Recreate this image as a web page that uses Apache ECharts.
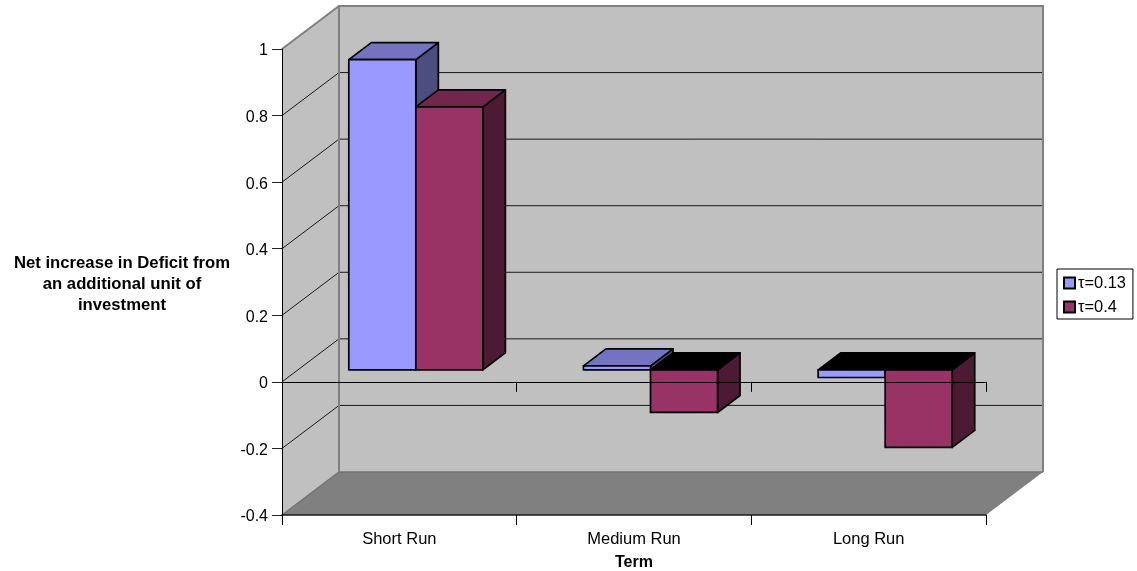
<!DOCTYPE html>
<html>
<head>
<meta charset="utf-8">
<title>Net increase in Deficit</title>
<script src="https://cdn.jsdelivr.net/npm/echarts@6/dist/echarts.min.js"></script>
<style>
html, body { margin: 0; padding: 0; background: #fff; }
#chart { width: 1137px; height: 571px; }
</style>
</head>
<body>
<div id="chart"></div>
<script>
// 数据
var categories = ['Short Run', 'Medium Run', 'Long Run'];
var tauLow = [0.932, 0.012, -0.023];
var tauHigh = [0.79, -0.128, -0.233];
var tickValues = [-0.2, 0, 0.2, 0.4, 0.6, 0.8];

// 假3D的进深
var wallDx = 57, wallDy = 43;
var barFrontDx = 16.5, barFrontDy = 12;
var barDepthDx = 22.5, barDepthDy = 17;
var barShare = 0.2857;
var fontName = '"Liberation Sans", Arial, sans-serif';

var chart = echarts.init(document.getElementById('chart'));

function poly(points, fill, stroke, lineWidth) {
    return {
        type: 'polygon',
        shape: {points: points},
        style: {fill: fill, stroke: stroke || 'none', lineWidth: lineWidth || 0, lineJoin: 'round'}
    };
}

function polyline(points, stroke, lineWidth) {
    return {
        type: 'polyline',
        shape: {points: points},
        style: {fill: 'none', stroke: stroke, lineWidth: lineWidth}
    };
}

// 背景墙和地板
function renderWalls(params, api) {
    var rect = params.coordSys;
    var left = rect.x, right = rect.x + rect.width;
    var top = rect.y, bottom = rect.y + rect.height;
    var children = [
        poly([[left, top], [left + wallDx, top - wallDy], [left + wallDx, bottom - wallDy], [left, bottom]], '#c0c0c0'),
        poly([[left + wallDx, top - wallDy], [right + wallDx, top - wallDy], [right + wallDx, bottom - wallDy], [left + wallDx, bottom - wallDy]], '#c0c0c0'),
        poly([[left, bottom], [right, bottom], [right + wallDx, bottom - wallDy], [left + wallDx, bottom - wallDy]], '#808080')
    ];
    tickValues.forEach(function (v) {
        var y = api.coord([0, v])[1];
        children.push(polyline([[left, y], [left + wallDx, y - wallDy], [right + wallDx, y - wallDy]], '#1a1a1a', 1));
    });
    children.push(polyline([[left, top], [left + wallDx, top - wallDy], [right + wallDx, top - wallDy], [right + wallDx, bottom - wallDy]], '#808080', 2));
    children.push(polyline([[left, bottom], [left + wallDx, bottom - wallDy], [right + wallDx, bottom - wallDy]], '#737373', 1.5));
    children.push(polyline([[left + wallDx, top - wallDy], [left + wallDx, bottom - wallDy]], '#808080', 2));
    return {type: 'group', children: children};
}

// slot: 0 左边的柱, 1 右边的柱
function makeBarRenderer(slot, front, topFace, sideFace) {
    return function (params, api) {
        var idx = api.value(0);
        var value = api.value(1);
        var band = api.size([1, 0])[0];
        var barW = band * barShare;
        var center = api.coord([idx, 0]);
        var x0 = center[0] + barFrontDx - barW + slot * barW;
        var x1 = x0 + barW;
        var yZero = center[1] - barFrontDy;
        var yVal = api.coord([idx, value])[1] - barFrontDy;
        var yTop = Math.min(yZero, yVal);
        var yBottom = Math.max(yZero, yVal);
        // 负值柱子的顶面是黑的
        var topColor = value < 0 ? '#000000' : topFace;
        return {
            type: 'group',
            children: [
                poly([[x1, yTop], [x1 + barDepthDx, yTop - barDepthDy], [x1 + barDepthDx, yBottom - barDepthDy], [x1, yBottom]], sideFace, '#000', 1.7),
                poly([[x0, yTop], [x0 + barDepthDx, yTop - barDepthDy], [x1 + barDepthDx, yTop - barDepthDy], [x1, yTop]], topColor, '#000', 1.7),
                poly([[x0, yTop], [x1, yTop], [x1, yBottom], [x0, yBottom]], front, '#000', 1.7)
            ]
        };
    };
}

function barData(values) {
    return values.map(function (v, i) {
        return [i, v];
    });
}

var option = {
    animation: false,
    textStyle: {fontFamily: fontName, color: '#000'},
    // v6默认会把grid往里缩，这里关掉
    grid: {left: 282, top: 49, width: 704, height: 466, containLabel: false, outerBoundsMode: 'none'},
    legend: {
        left: 1057,
        top: 269,
        orient: 'vertical',
        icon: 'rect',
        itemWidth: 11,
        itemHeight: 11,
        itemGap: 8,
        padding: [6, 7, 4, 6],
        borderColor: '#000',
        borderWidth: 1,
        backgroundColor: '#fff',
        textStyle: {fontFamily: fontName, fontSize: 16.4, color: '#000', padding: [0, 0, 0, -2]},
        data: ['τ=0.13', 'τ=0.4']
    },
    xAxis: [
        {
            type: 'category',
            data: categories,
            position: 'bottom',
            name: 'Term',
            nameLocation: 'middle',
            nameGap: 40,
            nameTextStyle: {fontFamily: fontName, fontWeight: 'bold', fontSize: 16, color: '#000'},
            axisLine: {onZero: false, lineStyle: {color: '#1a1a1a', width: 1.5}},
            axisTick: {show: true, length: 10, lineStyle: {color: '#000'}},
            axisLabel: {show: true, fontFamily: fontName, fontSize: 16.5, color: '#000', margin: 16},
            z: 6
        },
        {
            type: 'category',
            data: categories,
            position: 'bottom',
            axisLine: {onZero: true, lineStyle: {color: '#000', width: 1}},
            axisTick: {show: true, length: 10, lineStyle: {color: '#000'}},
            axisLabel: {show: false},
            z: 6
        }
    ],
    yAxis: {
        type: 'value',
        min: -0.4,
        max: 1,
        interval: 0.2,
        // 第一行是空的细行，用来把标题往下挪一点
        name: '{gap| }\n{t|Net increase in Deficit from}\n{t|an additional unit of}\n{t|investment}',
        nameLocation: 'middle',
        nameRotate: 0,
        nameGap: 160,
        nameTextStyle: {
            align: 'center',
            verticalAlign: 'middle',
            rich: {
                gap: {fontSize: 1, lineHeight: 4},
                t: {fontFamily: fontName, fontWeight: 'bold', fontSize: 16.7, lineHeight: 21, color: '#000'}
            }
        },
        axisLine: {show: true, lineStyle: {color: '#000', width: 1}},
        axisTick: {show: true, length: 10, lineStyle: {color: '#222'}},
        axisLabel: {
            margin: 14,
            formatter: '{v|{value}}',
            rich: {
                v: {fontFamily: fontName, fontSize: 16, color: '#000', padding: [4, 0, 0, 0]}
            }
        },
        splitLine: {show: false},
        z: 6
    },
    series: [
        {
            name: 'walls',
            type: 'custom',
            silent: true,
            z: 1,
            data: [[0, 0]],
            renderItem: renderWalls
        },
        {
            name: 'τ=0.13',
            type: 'custom',
            z: 2,
            itemStyle: {color: '#9999ff', borderColor: '#000', borderWidth: 1.5},
            data: barData(tauLow),
            renderItem: makeBarRenderer(0, '#9999ff', '#7373bf', '#4d4d80')
        },
        {
            name: 'τ=0.4',
            type: 'custom',
            z: 3,
            itemStyle: {color: '#993366', borderColor: '#000', borderWidth: 1.5},
            data: barData(tauHigh),
            renderItem: makeBarRenderer(1, '#993366', '#73264d', '#4d1a33')
        }
    ]
};
chart.setOption(option);
</script>
</body>
</html>
